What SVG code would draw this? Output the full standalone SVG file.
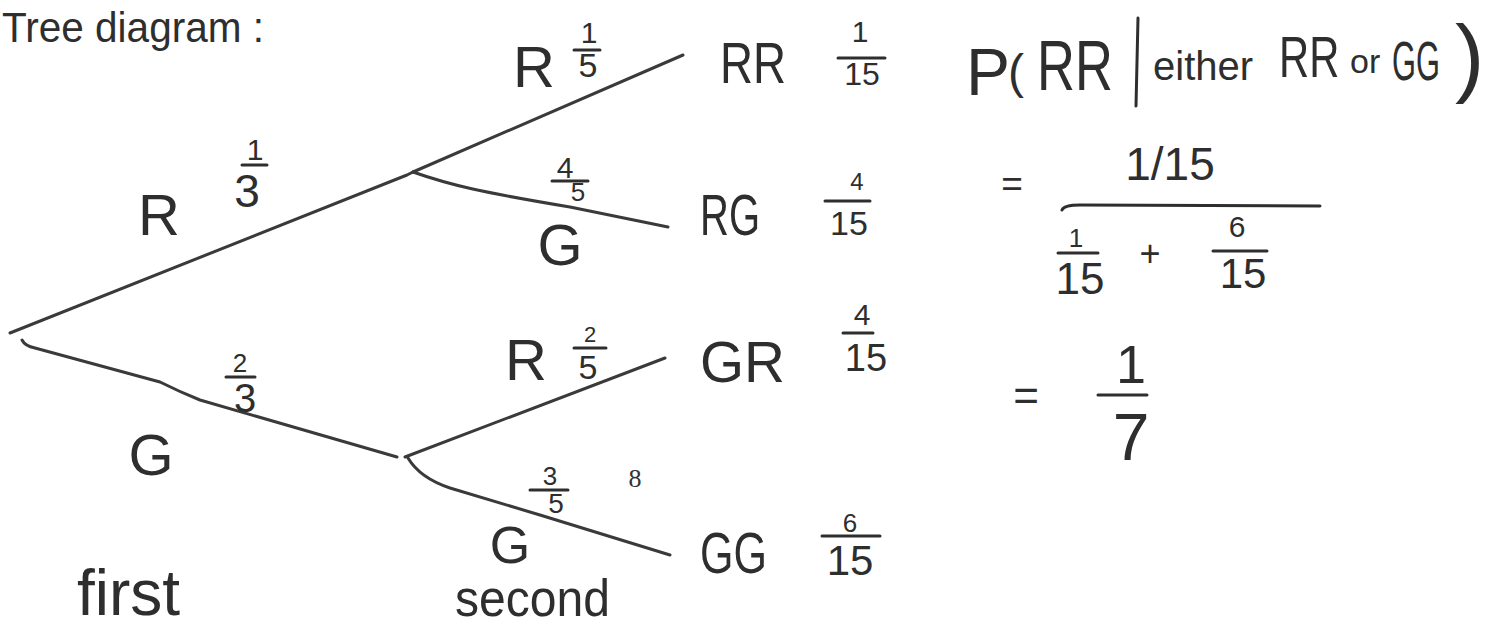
<svg xmlns="http://www.w3.org/2000/svg" width="1485" height="630" viewBox="0 0 1485 630">
<style>
  text { font-family: "Liberation Sans", Arial, sans-serif; fill: #2e2e2e; }
  .m { text-anchor: middle; }
  .lbl { font-size: 58px; }
  .typed { font-family: "Liberation Serif", serif; font-size: 26px; fill: #333; }
  .br { stroke: #3a3a3a; stroke-width: 3; fill: none; stroke-linecap: round; stroke-linejoin: round; }
  .bar { stroke: #2e2e2e; stroke-width: 3; stroke-linecap: round; fill: none; }
</style>
<rect width="1485" height="630" fill="#ffffff"/>

<text id="title" x="2" y="42" font-size="42" textLength="262" lengthAdjust="spacingAndGlyphs">Tree diagram :</text>

<g id="connectors">
  <path class="br" d="M10,333 L407,175 L413,172"/>
  <path class="br" d="M22,340 Q25,346 35,348 L160,382 Q180,392 200,400 L397,457"/>
  <path class="br" d="M413,172 L683,55"/>
  <path class="br" d="M413,172 C450,185 480,192 570,207 L668,227"/>
  <path class="br" d="M405,457 L665,358"/>
  <path class="br" d="M408,458 Q420,478 450,488 L540,515 L670,555"/>
</g>

<g id="branch-R1">
  <text class="lbl m" x="159" y="235">R</text>
  <text class="m" x="255" y="160" font-size="30">1</text>
  <line class="bar" x1="242" y1="165" x2="267" y2="165"/>
  <text class="m" x="247" y="207" font-size="46">3</text>
</g>

<g id="branch-G1">
  <text class="lbl m" x="151" y="475">G</text>
  <text class="m" x="240" y="372" font-size="26">2</text>
  <line class="bar" x1="226" y1="377" x2="255" y2="377"/>
  <text class="m" x="245" y="412" font-size="40">3</text>
</g>

<g id="branch-RR">
  <text class="lbl m" x="534" y="87">R</text>
  <text class="m" x="589" y="43" font-size="30">1</text>
  <line class="bar" x1="574" y1="50" x2="600" y2="50"/>
  <text class="m" x="588" y="77" font-size="34">5</text>
</g>

<g id="branch-RG">
  <text class="m" x="565" y="178" font-size="30">4</text>
  <line class="bar" x1="552" y1="181" x2="588" y2="181"/>
  <text class="m" x="578" y="201" font-size="26">5</text>
  <text class="lbl m" x="560" y="265">G</text>
</g>

<g id="branch-GR">
  <text class="lbl m" x="526" y="380">R</text>
  <text class="m" x="590" y="342" font-size="22">2</text>
  <line class="bar" x1="574" y1="348" x2="606" y2="348"/>
  <text class="m" x="588" y="379" font-size="34">5</text>
</g>

<g id="branch-GG">
  <text class="m" x="550" y="485" font-size="26">3</text>
  <line class="bar" x1="530" y1="490" x2="568" y2="490"/>
  <text class="m" x="556" y="513" font-size="28">5</text>
  <text class="typed m" x="635" y="487">8</text>
  <text class="m" x="510" y="563" font-size="52">G</text>
</g>

<g id="leaf-RR">
  <text class="lbl" x="720" y="83" textLength="66" lengthAdjust="spacingAndGlyphs">RR</text>
  <text class="m" x="860" y="42" font-size="30">1</text>
  <line class="bar" x1="838" y1="58" x2="885" y2="58"/>
  <text class="m" x="862" y="85" font-size="32">15</text>
</g>

<g id="leaf-RG">
  <text class="lbl" x="700" y="235" textLength="60" lengthAdjust="spacingAndGlyphs">RG</text>
  <text class="m" x="857" y="190" font-size="24">4</text>
  <line class="bar" x1="825" y1="201" x2="870" y2="201"/>
  <text class="m" x="849" y="235" font-size="34">15</text>
</g>

<g id="leaf-GR">
  <text class="lbl" x="700" y="382" textLength="85" lengthAdjust="spacingAndGlyphs">GR</text>
  <text class="m" x="862" y="325" font-size="30">4</text>
  <line class="bar" x1="843" y1="333" x2="873" y2="333"/>
  <text class="m" x="866" y="371" font-size="38">15</text>
</g>

<g id="leaf-GG">
  <text class="lbl" x="700" y="573" textLength="67" lengthAdjust="spacingAndGlyphs">GG</text>
  <text class="m" x="850" y="532" font-size="26">6</text>
  <line class="bar" x1="822" y1="536" x2="880" y2="536"/>
  <text class="m" x="850" y="575" font-size="42">15</text>
</g>

<g id="stage-labels">
  <text x="77" y="615" font-size="64">first</text>
  <text x="455" y="616" font-size="52" textLength="155" lengthAdjust="spacingAndGlyphs">second</text>
</g>

<g id="calculation">
  <text x="966" y="95" font-size="66">P</text>
  <text x="1008" y="88" font-size="48">(</text>
  <text transform="translate(1037,90) scale(0.75,1)" font-size="70">RR</text>
  <line class="bar" x1="1138" y1="18" x2="1136" y2="106" stroke-width="4"/>
  <text x="1153" y="80" font-size="40">either</text>
  <text transform="translate(1279,77) scale(0.72,1)" font-size="58">RR</text>
  <text x="1350" y="73" font-size="34">or</text>
  <text transform="translate(1392,80) scale(0.55,1)" font-size="56">GG</text>
  <text x="1455" y="86" font-size="88">)</text>

  <text class="m" x="1012" y="196" font-size="37">=</text>
  <text class="m" x="1170" y="180" font-size="46">1/15</text>
  <path class="bar" d="M1062,210 Q1064,205 1080,205 L1320,206"/>
  <text class="m" x="1076" y="247" font-size="26">1</text>
  <line class="bar" x1="1058" y1="253" x2="1098" y2="253"/>
  <text class="m" x="1080" y="294" font-size="44">15</text>
  <text class="m" x="1150" y="266" font-size="36">+</text>
  <text class="m" x="1237" y="237" font-size="30">6</text>
  <line class="bar" x1="1213" y1="251" x2="1267" y2="251"/>
  <text class="m" x="1243" y="288" font-size="42">15</text>

  <text class="m" x="1026" y="411" font-size="44">=</text>
  <text class="m" x="1131" y="383" font-size="54">1</text>
  <line class="bar" x1="1098" y1="395" x2="1147" y2="395"/>
  <text class="m" x="1131" y="460" font-size="66">7</text>
</g>
</svg>
